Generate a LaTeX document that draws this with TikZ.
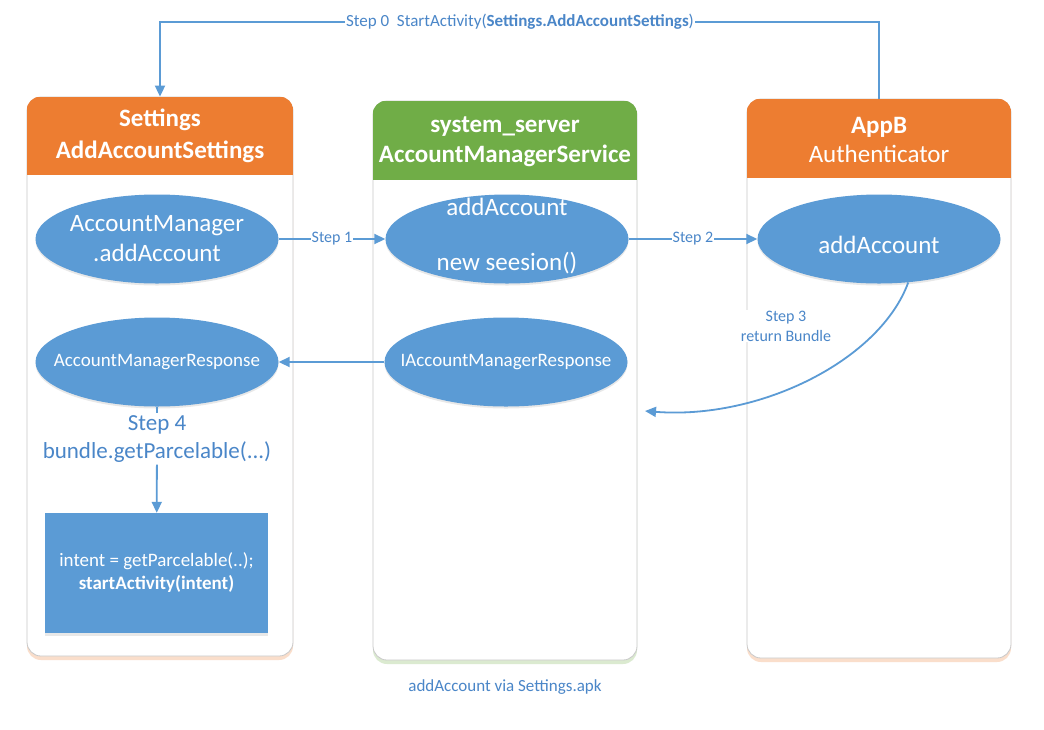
\documentclass[tikz,border=0pt]{standalone}
\usepackage{fontspec}
\setmainfont{Carlito}
\usetikzlibrary{shapes.geometric,arrows.meta,shadows,calc}
\definecolor{orA}{HTML}{ED7D31}
\definecolor{grB}{HTML}{70AD47}
\definecolor{blu}{HTML}{5B9BD5}
\definecolor{blt}{HTML}{4A86C8}
\definecolor{bord}{HTML}{C9C9C9}
\tikzset{
 colbox/.style={draw=bord,line width=0.8pt,fill=white,rounded corners=14pt,inner sep=0pt,minimum height=559pt},
 hdrtext/.style={text=white,align=center,font=\fontsize{25}{31}\selectfont},
 oval/.style={ellipse,fill=blu,inner sep=0pt,minimum width=243pt,minimum height=89pt,
   drop shadow={opacity=0.18,shadow xshift=0pt,shadow yshift=-2pt}},
 ovaltext/.style={text=white,align=center,inner sep=0pt},
 bigtxt/.style={font=\fontsize{25}{30}\selectfont},
 midtxt/.style={font=\fontsize{19}{23}\selectfont},
 conn/.style={draw=blu,line width=1.8pt},
 tip/.style={-{Triangle[length=11pt,width=10pt]}},
 steplbl/.style={fill=white,text=blt,inner sep=1pt,align=center,font=\fontsize{16}{20}\selectfont},
}
\begin{document}
\begin{tikzpicture}[x=1pt,y=-1pt]
\useasboundingbox (0,0) rectangle (1044,729);
\fill[white] (0,0) rectangle (1044,729);

% columns
\node[colbox,minimum width=266pt,drop shadow={opacity=0.25,fill=orA,shadow xshift=0pt,shadow yshift=-4pt}] (colA) at (160,376.5) {};
\node[colbox,minimum width=264pt,drop shadow={opacity=0.25,fill=grB,shadow xshift=0pt,shadow yshift=-4pt}] (colB) at (505,380.5) {};
\node[colbox,minimum width=264pt,drop shadow={opacity=0.25,fill=orA,shadow xshift=0pt,shadow yshift=-4pt}] (colC) at (879,378.5) {};

\begin{scope}
\clip[rounded corners=14pt] (colA.north west) rectangle (colA.south east);
\fill[orA] (colA.north west) rectangle ($(colA.north east)+(0,78)$);
\end{scope}
\begin{scope}
\clip[rounded corners=14pt] (colB.north west) rectangle (colB.south east);
\fill[grB] (colB.north west) rectangle ($(colB.north east)+(0,79)$);
\end{scope}
\begin{scope}
\clip[rounded corners=14pt] (colC.north west) rectangle (colC.south east);
\fill[orA] (colC.north west) rectangle ($(colC.north east)+(0,79)$);
\end{scope}

\node[hdrtext,font=\fontsize{25}{32}\selectfont] (hA) at (160,136) {\textbf{Settings}\\\textbf{AddAccountSettings}};
\node[hdrtext,font=\fontsize{25}{30}\selectfont] (hB) at (505,142) {\textbf{system\_server}\\\textbf{AccountManagerService}};
\node[hdrtext,font=\fontsize{25}{29}\selectfont] (hC) at (879,140) {\textbf{AppB}\\Authenticator};

% ellipses
\node[oval,label={[ovaltext,bigtxt]center:{AccountManager\\.addAccount}}] (e1) at (157,239) {};
\node[oval,label={[ovaltext,bigtxt,yshift=3pt]center:{addAccount\\[25pt]new seesion()}}] (e2) at (507,239) {};
\node[oval,label={[ovaltext,bigtxt,yshift=-6pt]center:{addAccount}}] (e3) at (879,239) {};
\node[oval,label={[ovaltext,midtxt]center:{AccountManagerResponse}}] (e4) at (157,362) {};
\node[oval,label={[ovaltext,midtxt]center:{IAccountManagerResponse}}] (e5) at (506,362) {};

% step 4 and box
\node[text=blt,align=center,font=\fontsize{23}{28}\selectfont,inner sep=2pt] (s4) at (157,439) {Step 4\\bundle.getParcelable(...)};
\node[fill=blu,text=white,minimum width=223pt,minimum height=120pt,inner sep=0pt,align=center,
  midtxt,drop shadow={opacity=0.18,shadow xshift=0pt,shadow yshift=-3pt}] (act) at (156.5,573)
  {intent = getParcelable(..);\\\textbf{startActivity(intent)}};

% connectors
\draw[conn,tip] (e1) -- node[steplbl]{Step 1} (e2);
\draw[conn,tip] (e2) -- node[steplbl]{Step 2} (e3);
\draw[conn,tip] (e5) -- (e4);
\draw[conn] (e4) -- (s4);
\draw[conn,tip] (s4) -- (act);

\coordinate (s3end) at (645,411);
\draw[conn,tip] (e3.-56) .. controls (880,360) and (760,420) .. (s3end);
\node[steplbl] (s3) at (786,326) {Step 3\\return Bundle};

\node[steplbl,font=\fontsize{17}{20}\selectfont] (s0) at (520,22) {Step 0\ \ StartActivity(\textbf{Settings.AddAccountSettings})};
\draw[conn] (colC.north) |- (s0.east);
\draw[conn,tip] (s0.west) -| (colA.north);

\node[text=blt,font=\fontsize{17}{20}\selectfont] (cap) at (505,687) {addAccount via Settings.apk};
\end{tikzpicture}
\end{document}
